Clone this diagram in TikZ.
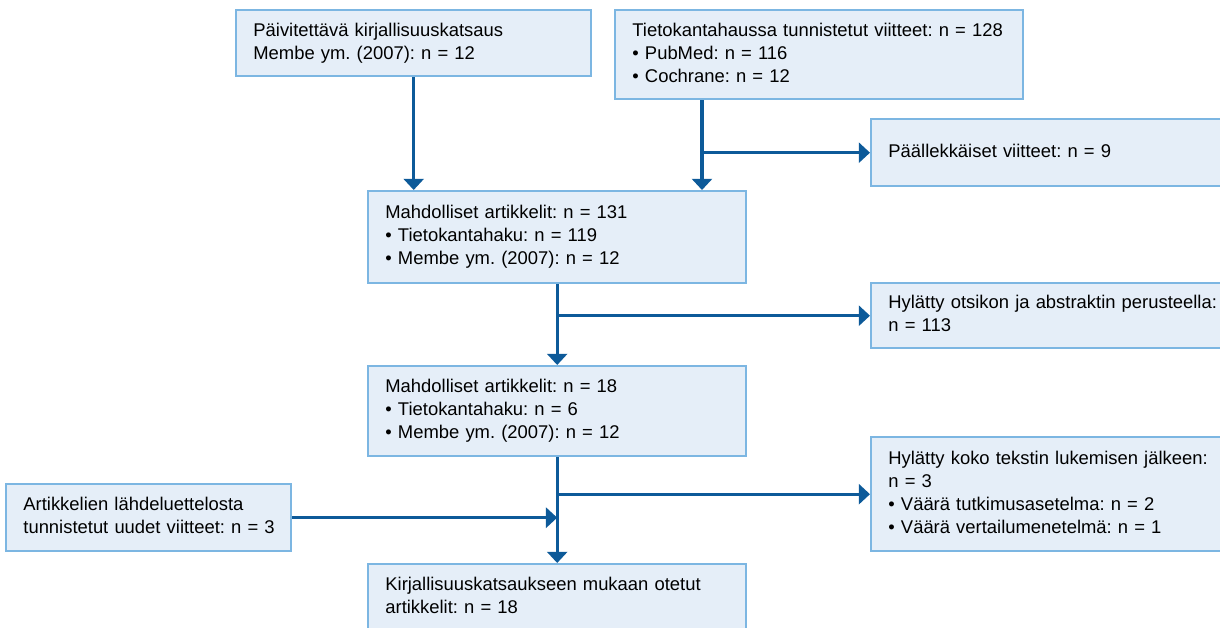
\documentclass[tikz,border=0pt]{standalone}
\usepackage{fontspec}
\setmainfont{Liberation Sans}
\usetikzlibrary{arrows.meta}
\definecolor{boxfill}{HTML}{E5EEF8}
\definecolor{boxline}{HTML}{7CB6E2}
\definecolor{arrline}{HTML}{0D5A99}
\frenchspacing
\hfuzz=20cm
% box text: lines never wrap, they may run into the right margin
\newcommand\rows[1]{\noindent\begin{tabular}{@{}l@{}}#1\end{tabular}}
\tikzset{
 stage/.style={draw=boxline, line width=1.7pt, fill=boxfill, anchor=north west,
  inner xsep=0.43cm, inner ysep=0pt,
  font=\fontsize{13.1}{16.4}\selectfont},
 flow/.style={draw=arrline, line width=2.4pt,
  -{Triangle[width=0.5cm,length=0.28cm]}}
}
\begin{document}
\begin{tikzpicture}
 \useasboundingbox (0,0) rectangle (30.5,-15.7);
 \begin{scope}
 \clip (0,0) rectangle (30.5,-15.7);
 \node[stage, text width=8.015cm, minimum height=1.65cm] (update) at (5.875,-0.225)
  {\rows{Päivitettävä kirjallisuuskatsaus\\Membe ym. (2007): n = 12}};
 \node[stage, text width=9.34cm, minimum height=2.225cm] (search) at (15.35,-0.225)
  {\rows{Tietokantahaussa tunnistetut viitteet: n = 128\\• PubMed: n = 116\\• Cochrane: n = 12}};
 \node[stage, text width=8.14cm, minimum height=1.675cm] (dupl) at (21.75,-2.95)
  {\rows{Päällekkäiset viitteet: n = 9}};
 \node[stage, text width=8.59cm, minimum height=2.3cm] (cand) at (9.175,-4.75)
  {\rows{Mahdolliset artikkelit: n = 131\\• Tietokantahaku: n = 119\\• Membe ym. (2007): n = 12}};
 \node[stage, text width=8.14cm, minimum height=1.625cm] (title) at (21.75,-7.05)
  {\rows{Hylätty otsikon ja abstraktin perusteella:\\n = 113}};
 \node[stage, text width=8.59cm, minimum height=2.25cm] (full) at (9.175,-9.125)
  {\rows{Mahdolliset artikkelit: n = 18\\• Tietokantahaku: n = 6\\• Membe ym. (2007): n = 12}};
 \node[stage, text width=8.14cm, minimum height=2.85cm] (text) at (21.75,-10.9)
  {\rows{Hylätty koko tekstin lukemisen jälkeen:\\n = 3\\• Väärä tutkimusasetelma: n = 2\\• Väärä vertailumenetelmä: n = 1}};
 \node[stage, text width=6.265cm, minimum height=1.675cm] (refs) at (0.125,-12.075)
  {\rows{Artikkelien lähdeluettelosta\\tunnistetut uudet viitteet: n = 3}};
 \node[stage, text width=8.59cm, minimum height=1.65cm] (incl) at (9.175,-14.075)
  {\rows{Kirjallisuuskatsaukseen mukaan otetut\\artikkelit: n = 18}};
 \end{scope}

 \coordinate (split) at (17.55,0);
 \draw[flow] (update.south) -- (update.south |- cand.north);
 \draw[flow] (split |- search.south) -- (split |- cand.north);
 \draw[flow] (split |- dupl.west) -- (dupl.west);
 \draw[flow] (cand.south) -- (full.north);
 \draw[flow] (cand.south |- title.west) -- (title.west);
 \draw[flow] (full.south) -- (incl.north);
 \draw[flow] (full.south |- text.west) -- (text.west);
 \draw[flow] (refs.east) -- (refs.east -| full.south);
\end{tikzpicture}
\end{document}
